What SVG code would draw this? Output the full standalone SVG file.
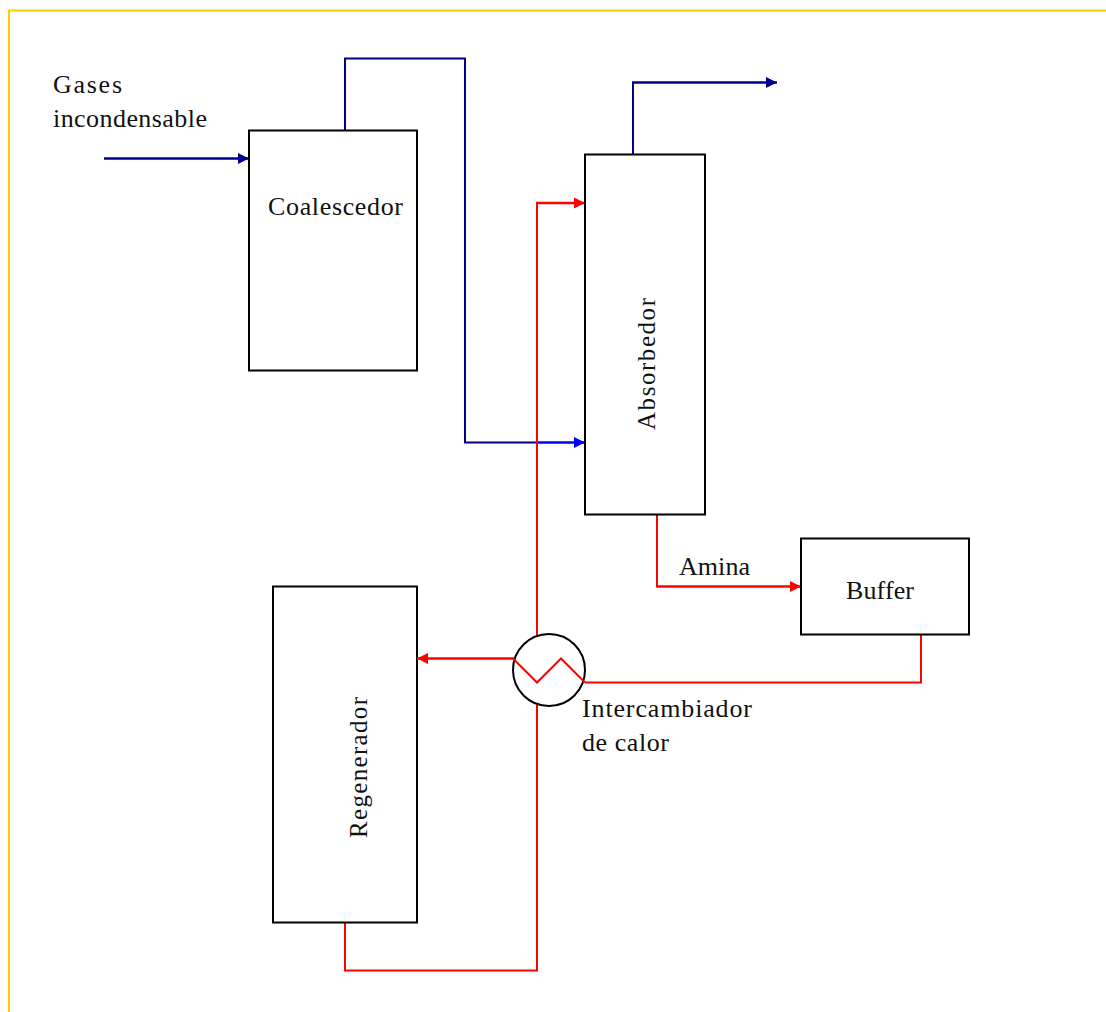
<svg xmlns="http://www.w3.org/2000/svg" width="1106" height="1012" viewBox="0 0 1106 1012">
<style>
text{font-family:"Liberation Serif","Times New Roman",serif;font-size:26px;fill:#111}
.v{font-size:25px}
.box{fill:none;stroke:#000;stroke-width:2}
.c{fill:none;stroke-width:2}
.t{stroke-width:2.6}
.n{stroke:#00008b}.b{stroke:#0000ff}.r{stroke:#ff0000}
</style>
<defs>
<marker id="an" markerUnits="userSpaceOnUse" markerWidth="12" markerHeight="12" refX="11" refY="6" orient="auto"><path d="M0 .5L11 6L0 11.500Z" fill="#00008b"/></marker>
<marker id="ab" markerUnits="userSpaceOnUse" markerWidth="12" markerHeight="12" refX="11" refY="6" orient="auto"><path d="M0 .5L11 6L0 11.500Z" fill="#0000ff"/></marker>
<marker id="ar" markerUnits="userSpaceOnUse" markerWidth="12" markerHeight="12" refX="11" refY="6" orient="auto"><path d="M0 .5L11 6L0 11.500Z" fill="#ff0000"/></marker>
</defs>
<path id="frame" d="M9 1012V10.500H1106" fill="none" stroke="#ffcc00" stroke-width="2"/>
<g id="connectors">
<path class="c n t" d="M104 158.500H249" marker-end="url(#an)"/>
<path class="c n" d="M345 130V58.500H465V442.500H537"/>
<path class="c b t" d="M537 442.500H585" marker-end="url(#ab)"/>
<path class="c n" d="M633 154V82.500"/>
<path class="c n t" d="M632 82.500H777" marker-end="url(#an)"/>
<path class="c r" d="M345 922V970.500H537V203"/>
<path class="c r t" d="M536 203H585" marker-end="url(#ar)"/>
<path class="c r" d="M657 514V586.500"/>
<path class="c r t" d="M656 586.500H801" marker-end="url(#ar)"/>
<path class="c r" d="M921 634V682.500H585"/>
</g>
<g id="coalescedor"><rect class="box" x="249" y="130.500" width="168" height="240"/><text x="268" y="215" textLength="135">Coalescedor</text></g>
<g id="absorbedor"><rect class="box" x="585" y="154.500" width="120" height="360"/><text class="v" transform="translate(655 430) rotate(-90)" textLength="132">Absorbedor</text></g>
<g id="buffer"><rect class="box" x="801" y="538.500" width="168" height="96"/><text x="846" y="599" textLength="68">Buffer</text></g>
<g id="regenerador"><rect class="box" x="273" y="586.500" width="144" height="336"/><text class="v" transform="translate(367 838) rotate(-90)" textLength="141">Regenerador</text></g>
<g id="intercambiador"><circle cx="549" cy="670" r="36" fill="#fff" stroke="#000" stroke-width="2"/>
<path class="c r" d="M513 658.500L537 682.500L561 658.500L585 682.500"/>
<path class="c r t" d="M514 658.500H417" marker-end="url(#ar)"/></g>
<g id="labels">
<text x="53" y="93" textLength="69">Gases</text>
<text x="53" y="127" textLength="154">incondensable</text>
<text x="679" y="575" textLength="71">Amina</text>
<text x="582" y="717" textLength="170">Intercambiador</text>
<text x="582" y="751" textLength="87">de calor</text>
</g>
</svg>
